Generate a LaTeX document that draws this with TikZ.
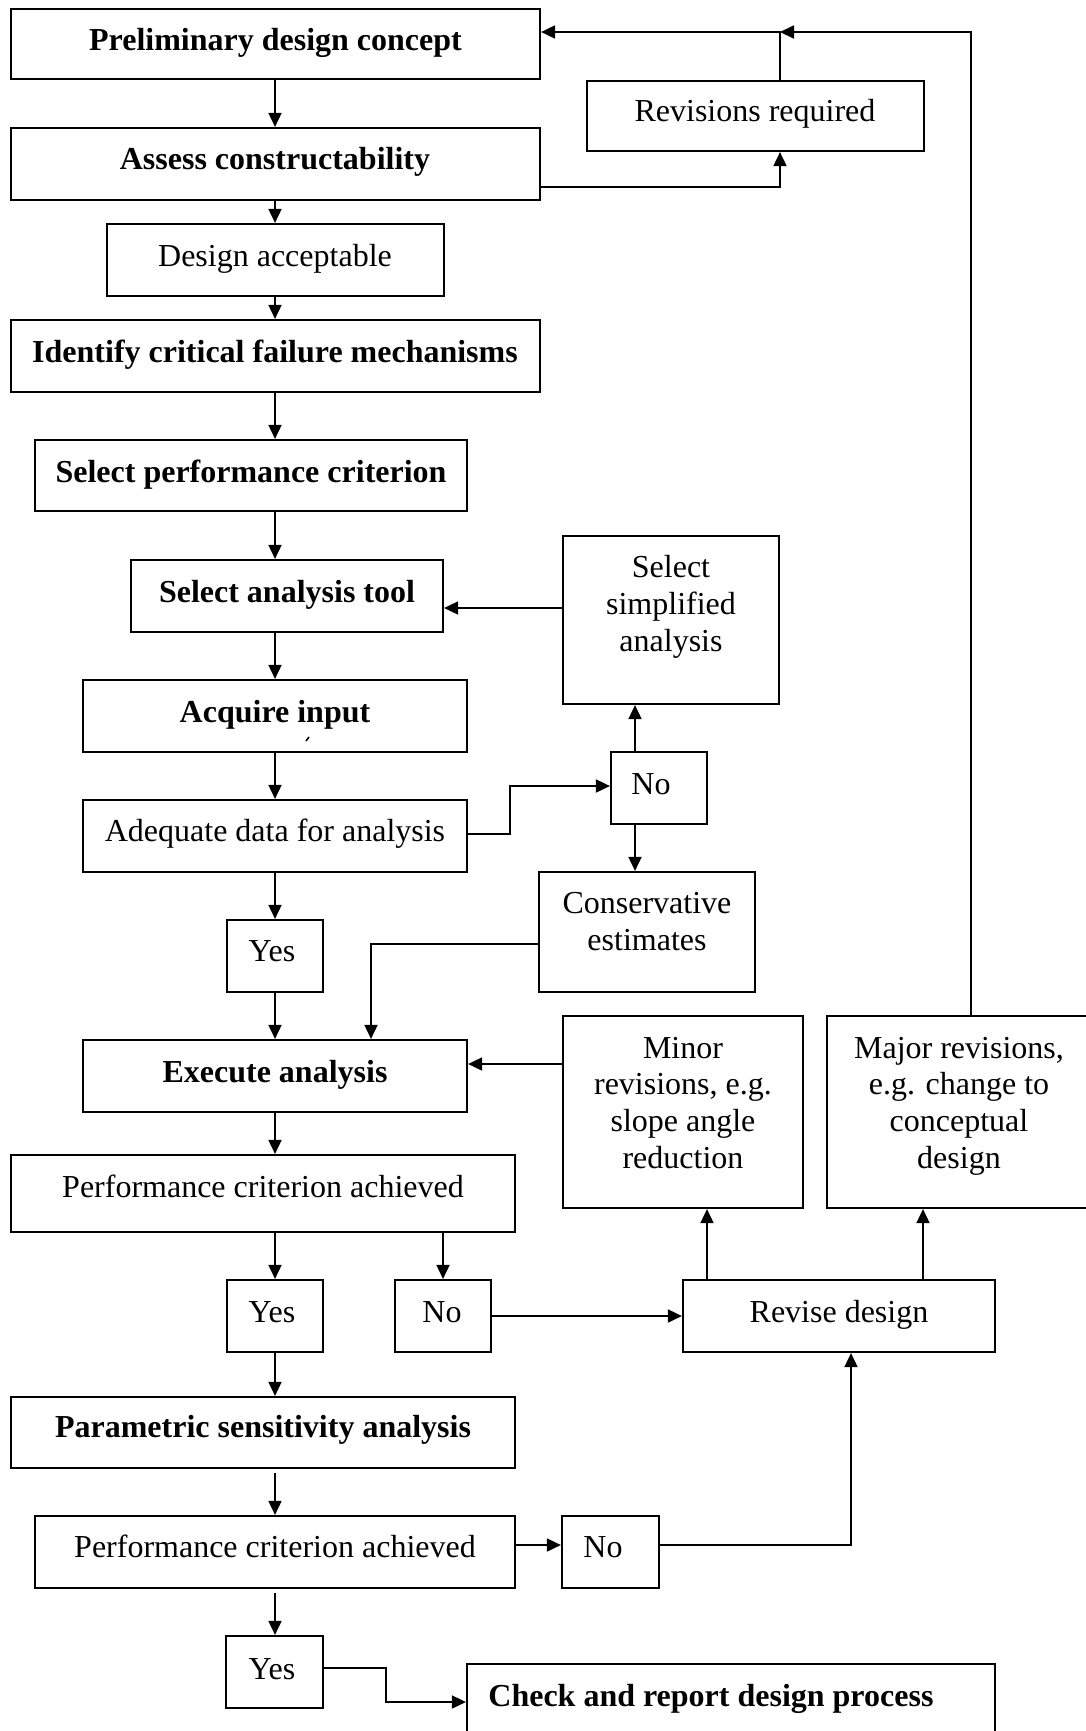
\documentclass[tikz,border=0pt]{standalone}
\usepackage{fontspec}
\setmainfont{Liberation Serif}
\usetikzlibrary{arrows.meta,fit}
\begin{document}
\begin{tikzpicture}[x=0.5pt,y=-0.5pt,
  box/.style={draw,line width=1.1pt,inner sep=0pt},
  txt/.style={font=\fontsize{16}{18.4}\selectfont,align=center,inner sep=0pt,yshift=-1pt},
  btxt/.style={txt,font=\fontsize{16}{18.4}\selectfont\bfseries},
  arr/.style={line width=0.9pt,-{Triangle[length=7pt,width=6.5pt]}},
  ln/.style={line width=0.9pt}]
\clip (0,0) rectangle (1086,1731);
\fill[white] (0,0) rectangle (1086,1731);
% boxes
\node[box,fit={(11,9) (540,79)}] (pre) {};
\node[btxt] (pret) at (275.5,41) {\strut Preliminary design concept};
\node[box,fit={(587,81) (924,151)}] (rev) {};
\node[txt] (revt) at (755,112) {\strut Revisions required};
\node[box,fit={(11,128) (540,200)}] (ass) {};
\node[btxt] (asst) at (275,160) {\strut Assess constructability};
\node[box,fit={(107,224) (444,296)}] (dacc) {};
\node[txt] (dacct) at (275,257) {\strut Design acceptable};
\node[box,fit={(11,320) (540,392)}] (ident) {};
\node[btxt] (identt) at (275,353) {\strut Identify critical failure mechanisms};
\node[box,fit={(35,440) (467,511)}] (selperf) {};
\node[btxt] (selperft) at (251,473) {\strut Select performance criterion};
\node[box,fit={(131,560) (443,632)}] (seltool) {};
\node[btxt] (seltoolt) at (287,593) {\strut Select analysis tool};
\node[box,fit={(563,536) (779,704)}] (selsimp) {};
\node[txt] (selsimpt) at (671,605) {\strut Select\\\strut simplified\\\strut analysis};
\node[box,fit={(83,680) (467,752)}] (acq) {};
\node[btxt] (acqt) at (275,713) {\strut Acquire input};
\draw[line width=0.8pt] (306,741) -- (309,737);
\node[box,fit={(611,752) (707,824)}] (no1) {};
\node[txt] (no1t) at (651,785) {\strut No};
\node[box,fit={(83,800) (467,872)}] (adeq) {};
\node[txt] (adeqt) at (275,832) {\strut Adequate data for analysis};
\node[box,fit={(539,872) (755,992)}] (cons) {};
\node[txt] (const) at (647,923) {\strut Conservative\\\strut estimates};
\node[box,fit={(227,920) (323,992)}] (yes1) {};
\node[txt] (yes1t) at (272,952) {\strut Yes};
\node[box,fit={(83,1040) (467,1112)}] (exec) {};
\node[btxt] (exect) at (275,1073) {\strut Execute analysis};
\node[box,fit={(563,1016) (803,1208)}] (minor) {};
\node[txt] (minort) at (683,1104) {\strut Minor\\\strut revisions, e.g.\\\strut slope angle\\\strut reduction};
\node[box,fit={(827,1016) (1095,1208)}] (major) {};
\node[txt] (majort) at (959,1104) {\strut Major revisions,\\\strut e.g. change to\\\strut conceptual\\\strut design};
\node[box,fit={(11,1155) (515,1232)}] (p1) {};
\node[txt] (p1t) at (263,1188) {\strut Performance criterion achieved};
\node[box,fit={(227,1280) (323,1352)}] (yes2) {};
\node[txt] (yes2t) at (272,1313) {\strut Yes};
\node[box,fit={(395,1280) (491,1352)}] (no2) {};
\node[txt] (no2t) at (442,1313) {\strut No};
\node[box,fit={(683,1280) (995,1352)}] (revise) {};
\node[txt] (reviset) at (839,1313) {\strut Revise design};
\node[box,fit={(11,1397) (515,1468)}] (param) {};
\node[btxt] (paramt) at (263,1428) {\strut Parametric sensitivity analysis};
\node[box,fit={(35,1516) (515,1588)}] (p2) {};
\node[txt] (p2t) at (275,1548) {\strut Performance criterion achieved};
\node[box,fit={(562,1516) (659,1588)}] (no3) {};
\node[txt] (no3t) at (603,1548) {\strut No};
\node[box,fit={(226,1636) (323,1708)}] (yes3) {};
\node[txt] (yes3t) at (272,1670) {\strut Yes};
\node[box,fit={(467,1664) (995,1740)}] (check) {};
\node[btxt,anchor=west] (checkt) at (488,1697) {\strut Check and report design process};
% main spine
\draw[arr] (pre.south -| 275,0) -- (ass.north -| 275,0);
\draw[arr] (ass.south -| 275,0) -- (dacc.north -| 275,0);
\draw[arr] (dacc.south -| 275,0) -- (ident.north -| 275,0);
\draw[arr] (ident.south -| 275,0) -- (selperf.north -| 275,0);
\draw[arr] (selperf.south -| 275,0) -- (seltool.north -| 275,0);
\draw[arr] (seltool.south -| 275,0) -- (acq.north -| 275,0);
\draw[arr] (acq.south -| 275,0) -- (adeq.north -| 275,0);
\draw[arr] (adeq.south -| 275,0) -- (yes1.north -| 275,0);
\draw[arr] (yes1.south -| 275,0) -- (exec.north -| 275,0);
\draw[arr] (exec.south -| 275,0) -- (p1.north -| 275,0);
\draw[arr] (p1.south -| 275,0) -- (yes2.north -| 275,0);
\draw[arr] (p1.south -| 443,0) -- (no2.north -| 443,0);
\draw[arr] (yes2.south -| 275,0) -- (param.north -| 275,0);
\draw[arr,shorten <=2pt] (param.south -| 275,0) -- (p2.north -| 275,0);
\draw[arr,shorten <=2pt] (p2.south -| 275,0) -- (yes3.north -| 275,0);
\draw[arr] (yes3.east |- 0,1668) -- (386,1668) |- (check.west);
% top loops
\draw[arr] (ass.east |- 0,187) -| (rev.south -| 780,0);
\draw[arr] (rev.north -| 780,0) |- (pre.east |- 0,32);
\coordinate (j1) at (780,32);
\draw[arr] (major.north -| 971,0) |- (j1);
% data branch
\draw[arr] (selsimp.west |- 0,608) -- (seltool.east |- 0,608);
\draw[arr] (adeq.east |- 0,834) -- (510,834) |- (no1.west |- 0,786);
\draw[arr] (no1.north -| 635,0) -- (selsimp.south -| 635,0);
\draw[arr] (no1.south -| 635,0) -- (cons.north -| 635,0);
\draw[arr] (cons.west |- 0,944) -| (exec.north -| 371,0);
\draw[arr] (minor.west |- 0,1064) -- (exec.east |- 0,1064);
% revision branch
\draw[arr] (no2.east |- 0,1316) -- (revise.west |- 0,1316);
\draw[arr] (revise.north -| 707,0) -- (minor.south -| 707,0);
\draw[arr] (revise.north -| 923,0) -- (major.south -| 923,0);
\draw[arr] (p2.east |- 0,1545) -- (no3.west |- 0,1545);
\draw[arr] (no3.east |- 0,1545) -| (revise.south -| 851,0);
\end{tikzpicture}
\end{document}
